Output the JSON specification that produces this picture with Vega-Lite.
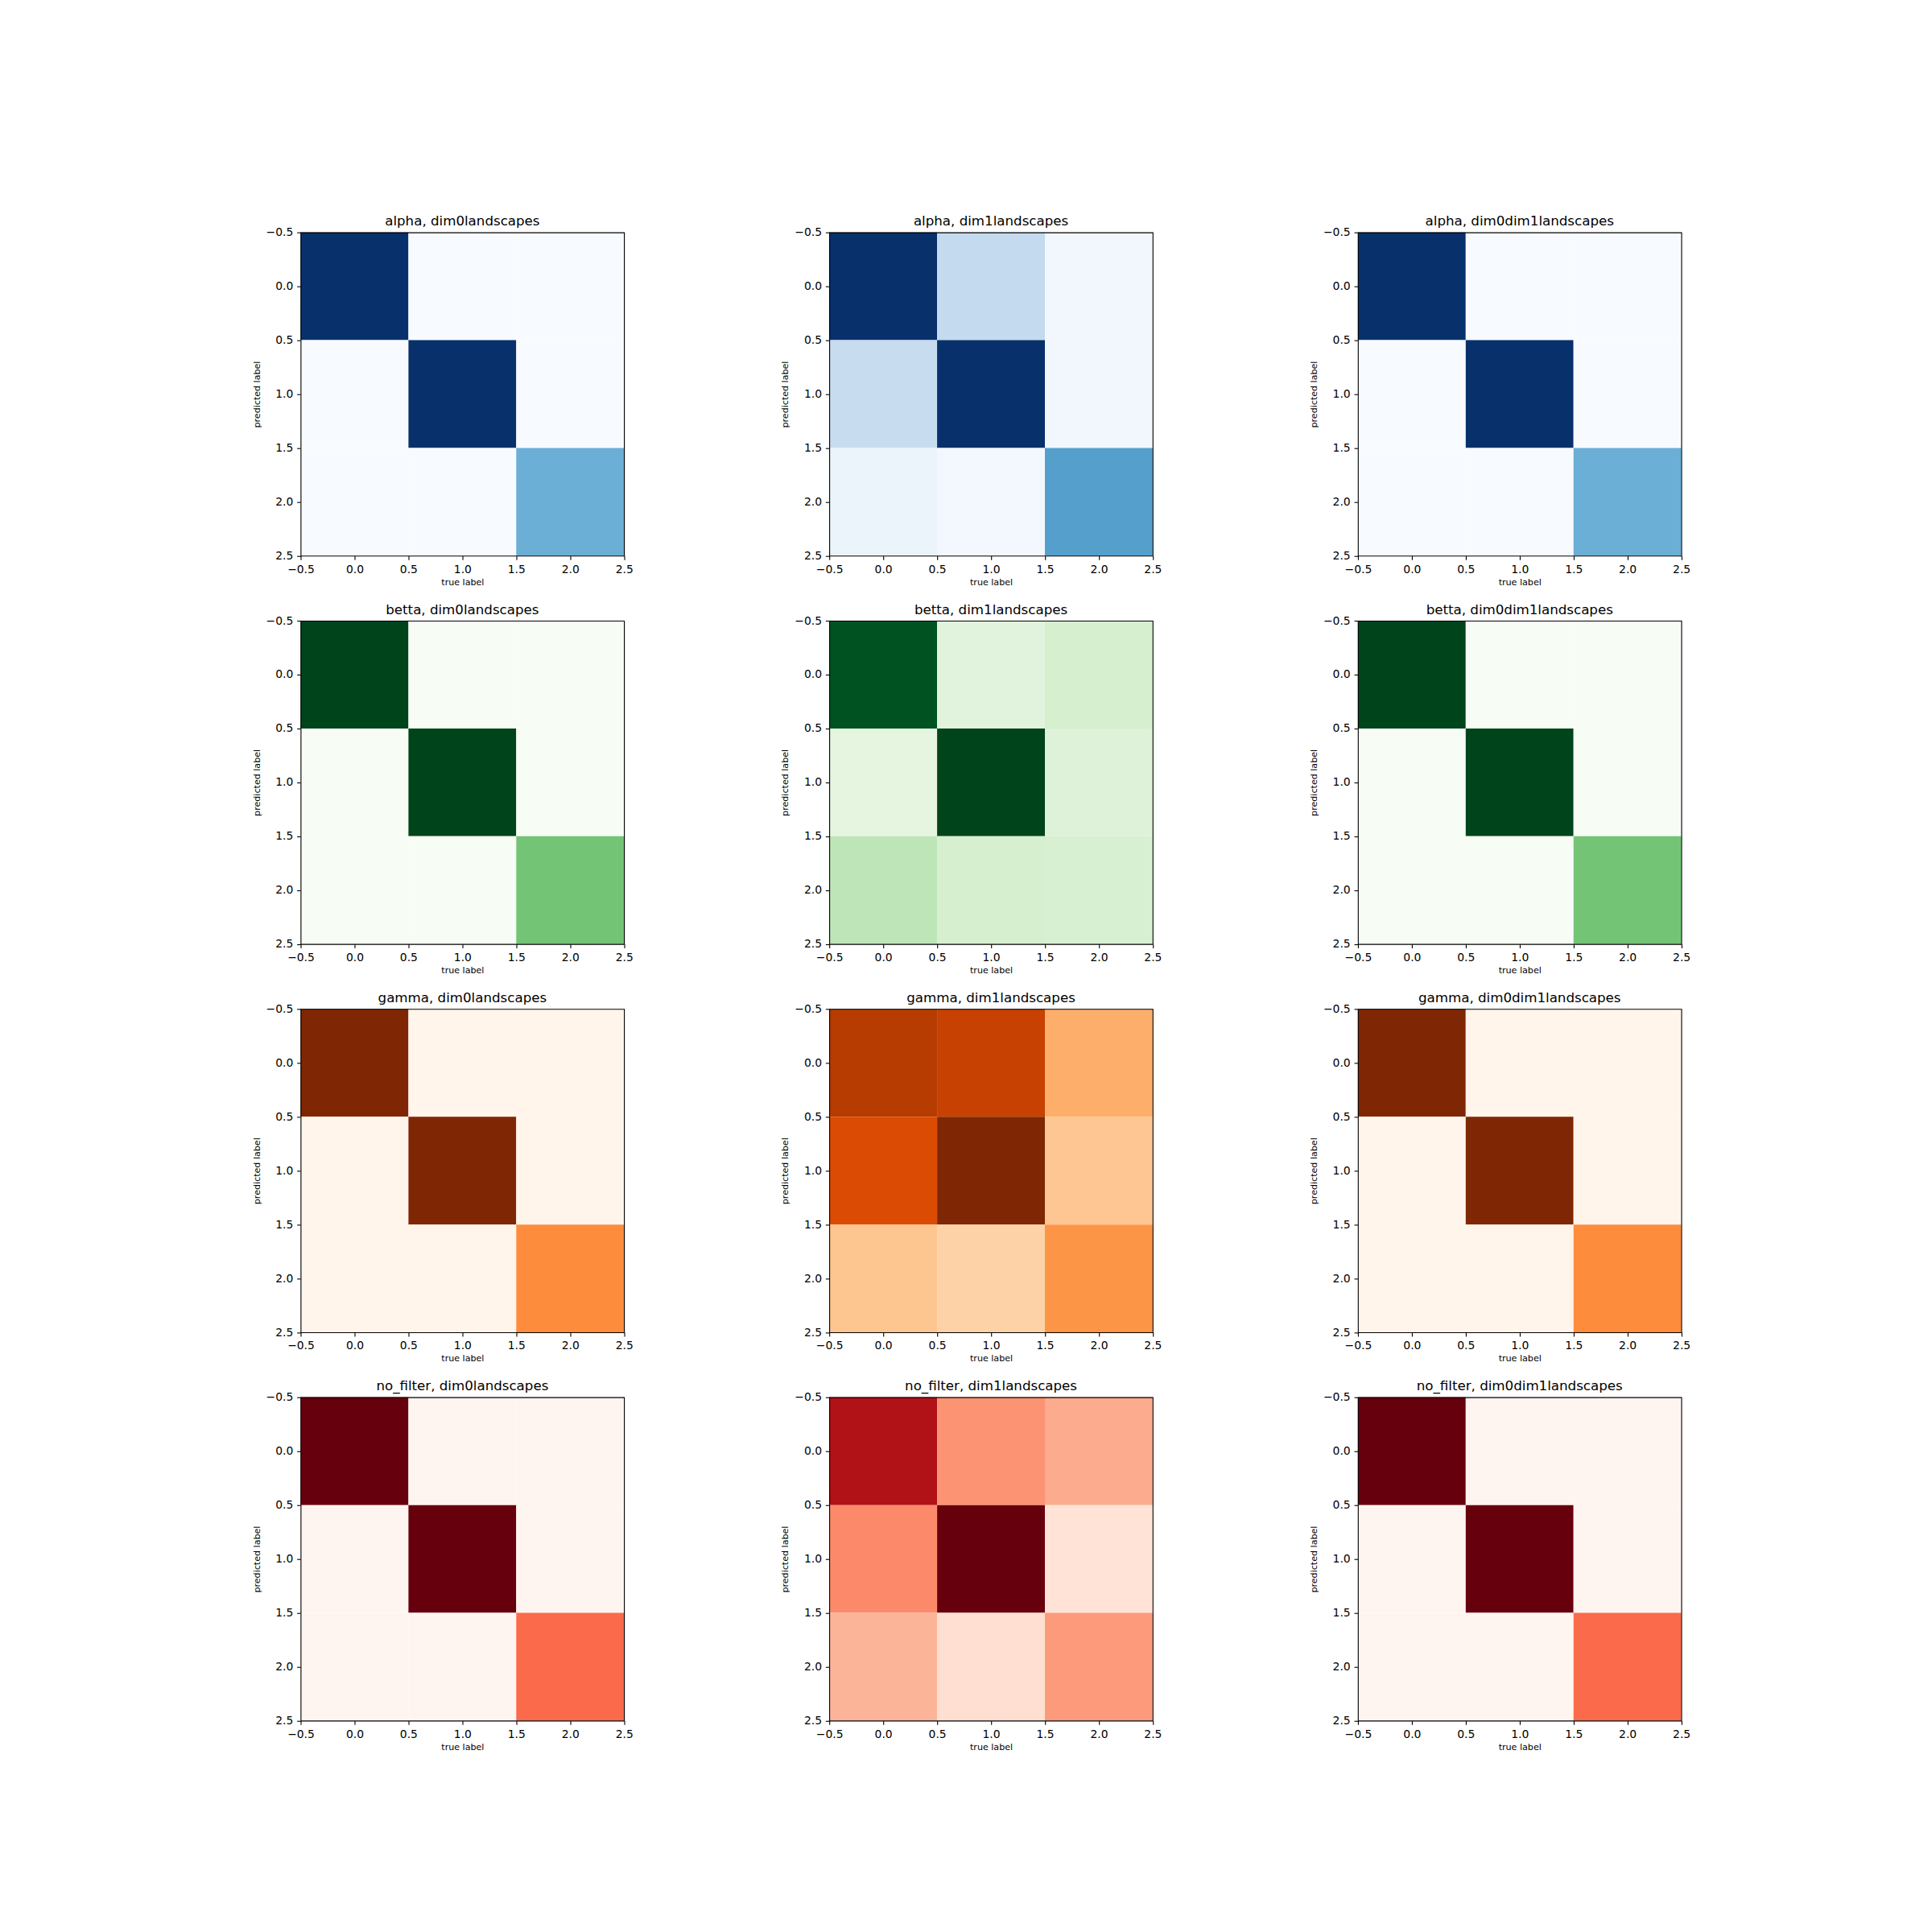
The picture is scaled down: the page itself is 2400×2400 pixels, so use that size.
{
  "$schema": "https://vega.github.io/schema/vega-lite/v6.json",
  "padding": {"left": 312.5, "top": 266.7, "right": 5, "bottom": 5},
  "data": {"values": [
    {"m":"alpha","l":"dim0landscapes","r":0,"c":0,"v":1},{"m":"alpha","l":"dim0landscapes","r":0,"c":1,"v":0},{"m":"alpha","l":"dim0landscapes","r":0,"c":2,"v":0},
    {"m":"alpha","l":"dim0landscapes","r":1,"c":0,"v":0},{"m":"alpha","l":"dim0landscapes","r":1,"c":1,"v":1},{"m":"alpha","l":"dim0landscapes","r":1,"c":2,"v":0},
    {"m":"alpha","l":"dim0landscapes","r":2,"c":0,"v":0},{"m":"alpha","l":"dim0landscapes","r":2,"c":1,"v":0},{"m":"alpha","l":"dim0landscapes","r":2,"c":2,"v":0.5},
    {"m":"alpha","l":"dim1landscapes","r":0,"c":0,"v":1},{"m":"alpha","l":"dim1landscapes","r":0,"c":1,"v":0.255},{"m":"alpha","l":"dim1landscapes","r":0,"c":2,"v":0.03},
    {"m":"alpha","l":"dim1landscapes","r":1,"c":0,"v":0.245},{"m":"alpha","l":"dim1landscapes","r":1,"c":1,"v":1},{"m":"alpha","l":"dim1landscapes","r":1,"c":2,"v":0.03},
    {"m":"alpha","l":"dim1landscapes","r":2,"c":0,"v":0.055},{"m":"alpha","l":"dim1landscapes","r":2,"c":1,"v":0.025},{"m":"alpha","l":"dim1landscapes","r":2,"c":2,"v":0.567},
    {"m":"alpha","l":"dim0dim1landscapes","r":0,"c":0,"v":1},{"m":"alpha","l":"dim0dim1landscapes","r":0,"c":1,"v":0},{"m":"alpha","l":"dim0dim1landscapes","r":0,"c":2,"v":0},
    {"m":"alpha","l":"dim0dim1landscapes","r":1,"c":0,"v":0},{"m":"alpha","l":"dim0dim1landscapes","r":1,"c":1,"v":1},{"m":"alpha","l":"dim0dim1landscapes","r":1,"c":2,"v":0},
    {"m":"alpha","l":"dim0dim1landscapes","r":2,"c":0,"v":0},{"m":"alpha","l":"dim0dim1landscapes","r":2,"c":1,"v":0},{"m":"alpha","l":"dim0dim1landscapes","r":2,"c":2,"v":0.5},
    {"m":"betta","l":"dim0landscapes","r":0,"c":0,"v":1},{"m":"betta","l":"dim0landscapes","r":0,"c":1,"v":0},{"m":"betta","l":"dim0landscapes","r":0,"c":2,"v":0},
    {"m":"betta","l":"dim0landscapes","r":1,"c":0,"v":0},{"m":"betta","l":"dim0landscapes","r":1,"c":1,"v":1},{"m":"betta","l":"dim0landscapes","r":1,"c":2,"v":0},
    {"m":"betta","l":"dim0landscapes","r":2,"c":0,"v":0},{"m":"betta","l":"dim0landscapes","r":2,"c":1,"v":0},{"m":"betta","l":"dim0landscapes","r":2,"c":2,"v":0.5},
    {"m":"betta","l":"dim1landscapes","r":0,"c":0,"v":0.957},{"m":"betta","l":"dim1landscapes","r":0,"c":1,"v":0.142},{"m":"betta","l":"dim1landscapes","r":0,"c":2,"v":0.19},
    {"m":"betta","l":"dim1landscapes","r":1,"c":0,"v":0.125},{"m":"betta","l":"dim1landscapes","r":1,"c":1,"v":1},{"m":"betta","l":"dim1landscapes","r":1,"c":2,"v":0.154},
    {"m":"betta","l":"dim1landscapes","r":2,"c":0,"v":0.28},{"m":"betta","l":"dim1landscapes","r":2,"c":1,"v":0.19},{"m":"betta","l":"dim1landscapes","r":2,"c":2,"v":0.18},
    {"m":"betta","l":"dim0dim1landscapes","r":0,"c":0,"v":1},{"m":"betta","l":"dim0dim1landscapes","r":0,"c":1,"v":0},{"m":"betta","l":"dim0dim1landscapes","r":0,"c":2,"v":0},
    {"m":"betta","l":"dim0dim1landscapes","r":1,"c":0,"v":0},{"m":"betta","l":"dim0dim1landscapes","r":1,"c":1,"v":1},{"m":"betta","l":"dim0dim1landscapes","r":1,"c":2,"v":0},
    {"m":"betta","l":"dim0dim1landscapes","r":2,"c":0,"v":0},{"m":"betta","l":"dim0dim1landscapes","r":2,"c":1,"v":0},{"m":"betta","l":"dim0dim1landscapes","r":2,"c":2,"v":0.5},
    {"m":"gamma","l":"dim0landscapes","r":0,"c":0,"v":1},{"m":"gamma","l":"dim0landscapes","r":0,"c":1,"v":0},{"m":"gamma","l":"dim0landscapes","r":0,"c":2,"v":0},
    {"m":"gamma","l":"dim0landscapes","r":1,"c":0,"v":0},{"m":"gamma","l":"dim0landscapes","r":1,"c":1,"v":1},{"m":"gamma","l":"dim0landscapes","r":1,"c":2,"v":0},
    {"m":"gamma","l":"dim0landscapes","r":2,"c":0,"v":0},{"m":"gamma","l":"dim0landscapes","r":2,"c":1,"v":0},{"m":"gamma","l":"dim0landscapes","r":2,"c":2,"v":0.5},
    {"m":"gamma","l":"dim1landscapes","r":0,"c":0,"v":0.836},{"m":"gamma","l":"dim1landscapes","r":0,"c":1,"v":0.797},{"m":"gamma","l":"dim1landscapes","r":0,"c":2,"v":0.375},
    {"m":"gamma","l":"dim1landscapes","r":1,"c":0,"v":0.739},{"m":"gamma","l":"dim1landscapes","r":1,"c":1,"v":1},{"m":"gamma","l":"dim1landscapes","r":1,"c":2,"v":0.286},
    {"m":"gamma","l":"dim1landscapes","r":2,"c":0,"v":0.29},{"m":"gamma","l":"dim1landscapes","r":2,"c":1,"v":0.239},{"m":"gamma","l":"dim1landscapes","r":2,"c":2,"v":0.47},
    {"m":"gamma","l":"dim0dim1landscapes","r":0,"c":0,"v":1},{"m":"gamma","l":"dim0dim1landscapes","r":0,"c":1,"v":0},{"m":"gamma","l":"dim0dim1landscapes","r":0,"c":2,"v":0},
    {"m":"gamma","l":"dim0dim1landscapes","r":1,"c":0,"v":0},{"m":"gamma","l":"dim0dim1landscapes","r":1,"c":1,"v":1},{"m":"gamma","l":"dim0dim1landscapes","r":1,"c":2,"v":0},
    {"m":"gamma","l":"dim0dim1landscapes","r":2,"c":0,"v":0},{"m":"gamma","l":"dim0dim1landscapes","r":2,"c":1,"v":0},{"m":"gamma","l":"dim0dim1landscapes","r":2,"c":2,"v":0.5},
    {"m":"no_filter","l":"dim0landscapes","r":0,"c":0,"v":1},{"m":"no_filter","l":"dim0landscapes","r":0,"c":1,"v":0},{"m":"no_filter","l":"dim0landscapes","r":0,"c":2,"v":0},
    {"m":"no_filter","l":"dim0landscapes","r":1,"c":0,"v":0},{"m":"no_filter","l":"dim0landscapes","r":1,"c":1,"v":1},{"m":"no_filter","l":"dim0landscapes","r":1,"c":2,"v":0},
    {"m":"no_filter","l":"dim0landscapes","r":2,"c":0,"v":0},{"m":"no_filter","l":"dim0landscapes","r":2,"c":1,"v":0},{"m":"no_filter","l":"dim0landscapes","r":2,"c":2,"v":0.5},
    {"m":"no_filter","l":"dim1landscapes","r":0,"c":0,"v":0.839},{"m":"no_filter","l":"dim1landscapes","r":0,"c":1,"v":0.37},{"m":"no_filter","l":"dim1landscapes","r":0,"c":2,"v":0.299},
    {"m":"no_filter","l":"dim1landscapes","r":1,"c":0,"v":0.4},{"m":"no_filter","l":"dim1landscapes","r":1,"c":1,"v":1},{"m":"no_filter","l":"dim1landscapes","r":1,"c":2,"v":0.107},
    {"m":"no_filter","l":"dim1landscapes","r":2,"c":0,"v":0.271},{"m":"no_filter","l":"dim1landscapes","r":2,"c":1,"v":0.128},{"m":"no_filter","l":"dim1landscapes","r":2,"c":2,"v":0.35},
    {"m":"no_filter","l":"dim0dim1landscapes","r":0,"c":0,"v":1},{"m":"no_filter","l":"dim0dim1landscapes","r":0,"c":1,"v":0},{"m":"no_filter","l":"dim0dim1landscapes","r":0,"c":2,"v":0},
    {"m":"no_filter","l":"dim0dim1landscapes","r":1,"c":0,"v":0},{"m":"no_filter","l":"dim0dim1landscapes","r":1,"c":1,"v":1},{"m":"no_filter","l":"dim0dim1landscapes","r":1,"c":2,"v":0},
    {"m":"no_filter","l":"dim0dim1landscapes","r":2,"c":0,"v":0},{"m":"no_filter","l":"dim0dim1landscapes","r":2,"c":1,"v":0},{"m":"no_filter","l":"dim0dim1landscapes","r":2,"c":2,"v":0.5}
  ]},
  "transform": [
    {"calculate": "datum.c - 0.5", "as": "x0"},
    {"calculate": "datum.c + 0.5", "as": "x1"},
    {"calculate": "datum.r - 0.5", "as": "y0"},
    {"calculate": "datum.r + 0.5", "as": "y1"}
  ],
  "columns": 3,
  "spacing": {"row": 80.35, "column": 254.7},
  "bounds": "flush",
  "resolve": {"scale": {"color": "independent"}},
  "concat": [
    {"title": "alpha, dim0landscapes", "transform": [{"filter": "datum.m == 'alpha' && datum.l == 'dim0landscapes'"}], "mark": {"type": "rect", "strokeWidth": 0},
     "encoding": {"x": {"field": "x0", "type": "quantitative", "scale": {"domain": [-0.5, 2.5], "nice": false, "zero": false}, "axis": {"values": [-0.5, 0, 0.5, 1, 1.5, 2, 2.5], "format": ".1f", "title": "true label"}}, "x2": {"field": "x1"},
       "y": {"field": "y0", "type": "quantitative", "scale": {"domain": [-0.5, 2.5], "reverse": true, "nice": false, "zero": false}, "axis": {"values": [-0.5, 0, 0.5, 1, 1.5, 2, 2.5], "format": ".1f", "title": "predicted label"}}, "y2": {"field": "y1"},
       "color": {"field": "v", "type": "quantitative", "legend": null, "scale": {"domain": [0, 0.125, 0.25, 0.375, 0.5, 0.625, 0.75, 0.875, 1], "range": ["#f7fbff", "#deebf7", "#c6dbef", "#9ecae1", "#6baed6", "#4292c6", "#2171b5", "#08519c", "#08306b"], "interpolate": "rgb"}}}},
    {"title": "alpha, dim1landscapes", "transform": [{"filter": "datum.m == 'alpha' && datum.l == 'dim1landscapes'"}], "mark": {"type": "rect", "strokeWidth": 0},
     "encoding": {"x": {"field": "x0", "type": "quantitative", "scale": {"domain": [-0.5, 2.5], "nice": false, "zero": false}, "axis": {"values": [-0.5, 0, 0.5, 1, 1.5, 2, 2.5], "format": ".1f", "title": "true label"}}, "x2": {"field": "x1"},
       "y": {"field": "y0", "type": "quantitative", "scale": {"domain": [-0.5, 2.5], "reverse": true, "nice": false, "zero": false}, "axis": {"values": [-0.5, 0, 0.5, 1, 1.5, 2, 2.5], "format": ".1f", "title": "predicted label"}}, "y2": {"field": "y1"},
       "color": {"field": "v", "type": "quantitative", "legend": null, "scale": {"domain": [0, 0.125, 0.25, 0.375, 0.5, 0.625, 0.75, 0.875, 1], "range": ["#f7fbff", "#deebf7", "#c6dbef", "#9ecae1", "#6baed6", "#4292c6", "#2171b5", "#08519c", "#08306b"], "interpolate": "rgb"}}}},
    {"title": "alpha, dim0dim1landscapes", "transform": [{"filter": "datum.m == 'alpha' && datum.l == 'dim0dim1landscapes'"}], "mark": {"type": "rect", "strokeWidth": 0},
     "encoding": {"x": {"field": "x0", "type": "quantitative", "scale": {"domain": [-0.5, 2.5], "nice": false, "zero": false}, "axis": {"values": [-0.5, 0, 0.5, 1, 1.5, 2, 2.5], "format": ".1f", "title": "true label"}}, "x2": {"field": "x1"},
       "y": {"field": "y0", "type": "quantitative", "scale": {"domain": [-0.5, 2.5], "reverse": true, "nice": false, "zero": false}, "axis": {"values": [-0.5, 0, 0.5, 1, 1.5, 2, 2.5], "format": ".1f", "title": "predicted label"}}, "y2": {"field": "y1"},
       "color": {"field": "v", "type": "quantitative", "legend": null, "scale": {"domain": [0, 0.125, 0.25, 0.375, 0.5, 0.625, 0.75, 0.875, 1], "range": ["#f7fbff", "#deebf7", "#c6dbef", "#9ecae1", "#6baed6", "#4292c6", "#2171b5", "#08519c", "#08306b"], "interpolate": "rgb"}}}},
    {"title": "betta, dim0landscapes", "transform": [{"filter": "datum.m == 'betta' && datum.l == 'dim0landscapes'"}], "mark": {"type": "rect", "strokeWidth": 0},
     "encoding": {"x": {"field": "x0", "type": "quantitative", "scale": {"domain": [-0.5, 2.5], "nice": false, "zero": false}, "axis": {"values": [-0.5, 0, 0.5, 1, 1.5, 2, 2.5], "format": ".1f", "title": "true label"}}, "x2": {"field": "x1"},
       "y": {"field": "y0", "type": "quantitative", "scale": {"domain": [-0.5, 2.5], "reverse": true, "nice": false, "zero": false}, "axis": {"values": [-0.5, 0, 0.5, 1, 1.5, 2, 2.5], "format": ".1f", "title": "predicted label"}}, "y2": {"field": "y1"},
       "color": {"field": "v", "type": "quantitative", "legend": null, "scale": {"domain": [0, 0.125, 0.25, 0.375, 0.5, 0.625, 0.75, 0.875, 1], "range": ["#f7fcf5", "#e5f5e0", "#c7e9c0", "#a1d99b", "#74c476", "#41ab5d", "#238b45", "#006d2c", "#00441b"], "interpolate": "rgb"}}}},
    {"title": "betta, dim1landscapes", "transform": [{"filter": "datum.m == 'betta' && datum.l == 'dim1landscapes'"}], "mark": {"type": "rect", "strokeWidth": 0},
     "encoding": {"x": {"field": "x0", "type": "quantitative", "scale": {"domain": [-0.5, 2.5], "nice": false, "zero": false}, "axis": {"values": [-0.5, 0, 0.5, 1, 1.5, 2, 2.5], "format": ".1f", "title": "true label"}}, "x2": {"field": "x1"},
       "y": {"field": "y0", "type": "quantitative", "scale": {"domain": [-0.5, 2.5], "reverse": true, "nice": false, "zero": false}, "axis": {"values": [-0.5, 0, 0.5, 1, 1.5, 2, 2.5], "format": ".1f", "title": "predicted label"}}, "y2": {"field": "y1"},
       "color": {"field": "v", "type": "quantitative", "legend": null, "scale": {"domain": [0, 0.125, 0.25, 0.375, 0.5, 0.625, 0.75, 0.875, 1], "range": ["#f7fcf5", "#e5f5e0", "#c7e9c0", "#a1d99b", "#74c476", "#41ab5d", "#238b45", "#006d2c", "#00441b"], "interpolate": "rgb"}}}},
    {"title": "betta, dim0dim1landscapes", "transform": [{"filter": "datum.m == 'betta' && datum.l == 'dim0dim1landscapes'"}], "mark": {"type": "rect", "strokeWidth": 0},
     "encoding": {"x": {"field": "x0", "type": "quantitative", "scale": {"domain": [-0.5, 2.5], "nice": false, "zero": false}, "axis": {"values": [-0.5, 0, 0.5, 1, 1.5, 2, 2.5], "format": ".1f", "title": "true label"}}, "x2": {"field": "x1"},
       "y": {"field": "y0", "type": "quantitative", "scale": {"domain": [-0.5, 2.5], "reverse": true, "nice": false, "zero": false}, "axis": {"values": [-0.5, 0, 0.5, 1, 1.5, 2, 2.5], "format": ".1f", "title": "predicted label"}}, "y2": {"field": "y1"},
       "color": {"field": "v", "type": "quantitative", "legend": null, "scale": {"domain": [0, 0.125, 0.25, 0.375, 0.5, 0.625, 0.75, 0.875, 1], "range": ["#f7fcf5", "#e5f5e0", "#c7e9c0", "#a1d99b", "#74c476", "#41ab5d", "#238b45", "#006d2c", "#00441b"], "interpolate": "rgb"}}}},
    {"title": "gamma, dim0landscapes", "transform": [{"filter": "datum.m == 'gamma' && datum.l == 'dim0landscapes'"}], "mark": {"type": "rect", "strokeWidth": 0},
     "encoding": {"x": {"field": "x0", "type": "quantitative", "scale": {"domain": [-0.5, 2.5], "nice": false, "zero": false}, "axis": {"values": [-0.5, 0, 0.5, 1, 1.5, 2, 2.5], "format": ".1f", "title": "true label"}}, "x2": {"field": "x1"},
       "y": {"field": "y0", "type": "quantitative", "scale": {"domain": [-0.5, 2.5], "reverse": true, "nice": false, "zero": false}, "axis": {"values": [-0.5, 0, 0.5, 1, 1.5, 2, 2.5], "format": ".1f", "title": "predicted label"}}, "y2": {"field": "y1"},
       "color": {"field": "v", "type": "quantitative", "legend": null, "scale": {"domain": [0, 0.125, 0.25, 0.375, 0.5, 0.625, 0.75, 0.875, 1], "range": ["#fff5eb", "#fee6ce", "#fdd0a2", "#fdae6b", "#fd8d3c", "#f16913", "#d94801", "#a63603", "#7f2704"], "interpolate": "rgb"}}}},
    {"title": "gamma, dim1landscapes", "transform": [{"filter": "datum.m == 'gamma' && datum.l == 'dim1landscapes'"}], "mark": {"type": "rect", "strokeWidth": 0},
     "encoding": {"x": {"field": "x0", "type": "quantitative", "scale": {"domain": [-0.5, 2.5], "nice": false, "zero": false}, "axis": {"values": [-0.5, 0, 0.5, 1, 1.5, 2, 2.5], "format": ".1f", "title": "true label"}}, "x2": {"field": "x1"},
       "y": {"field": "y0", "type": "quantitative", "scale": {"domain": [-0.5, 2.5], "reverse": true, "nice": false, "zero": false}, "axis": {"values": [-0.5, 0, 0.5, 1, 1.5, 2, 2.5], "format": ".1f", "title": "predicted label"}}, "y2": {"field": "y1"},
       "color": {"field": "v", "type": "quantitative", "legend": null, "scale": {"domain": [0, 0.125, 0.25, 0.375, 0.5, 0.625, 0.75, 0.875, 1], "range": ["#fff5eb", "#fee6ce", "#fdd0a2", "#fdae6b", "#fd8d3c", "#f16913", "#d94801", "#a63603", "#7f2704"], "interpolate": "rgb"}}}},
    {"title": "gamma, dim0dim1landscapes", "transform": [{"filter": "datum.m == 'gamma' && datum.l == 'dim0dim1landscapes'"}], "mark": {"type": "rect", "strokeWidth": 0},
     "encoding": {"x": {"field": "x0", "type": "quantitative", "scale": {"domain": [-0.5, 2.5], "nice": false, "zero": false}, "axis": {"values": [-0.5, 0, 0.5, 1, 1.5, 2, 2.5], "format": ".1f", "title": "true label"}}, "x2": {"field": "x1"},
       "y": {"field": "y0", "type": "quantitative", "scale": {"domain": [-0.5, 2.5], "reverse": true, "nice": false, "zero": false}, "axis": {"values": [-0.5, 0, 0.5, 1, 1.5, 2, 2.5], "format": ".1f", "title": "predicted label"}}, "y2": {"field": "y1"},
       "color": {"field": "v", "type": "quantitative", "legend": null, "scale": {"domain": [0, 0.125, 0.25, 0.375, 0.5, 0.625, 0.75, 0.875, 1], "range": ["#fff5eb", "#fee6ce", "#fdd0a2", "#fdae6b", "#fd8d3c", "#f16913", "#d94801", "#a63603", "#7f2704"], "interpolate": "rgb"}}}},
    {"title": "no_filter, dim0landscapes", "transform": [{"filter": "datum.m == 'no_filter' && datum.l == 'dim0landscapes'"}], "mark": {"type": "rect", "strokeWidth": 0},
     "encoding": {"x": {"field": "x0", "type": "quantitative", "scale": {"domain": [-0.5, 2.5], "nice": false, "zero": false}, "axis": {"values": [-0.5, 0, 0.5, 1, 1.5, 2, 2.5], "format": ".1f", "title": "true label"}}, "x2": {"field": "x1"},
       "y": {"field": "y0", "type": "quantitative", "scale": {"domain": [-0.5, 2.5], "reverse": true, "nice": false, "zero": false}, "axis": {"values": [-0.5, 0, 0.5, 1, 1.5, 2, 2.5], "format": ".1f", "title": "predicted label"}}, "y2": {"field": "y1"},
       "color": {"field": "v", "type": "quantitative", "legend": null, "scale": {"domain": [0, 0.125, 0.25, 0.375, 0.5, 0.625, 0.75, 0.875, 1], "range": ["#fff5f0", "#fee0d2", "#fcbba1", "#fc9272", "#fb6a4a", "#ef3b2c", "#cb181d", "#a50f15", "#67000d"], "interpolate": "rgb"}}}},
    {"title": "no_filter, dim1landscapes", "transform": [{"filter": "datum.m == 'no_filter' && datum.l == 'dim1landscapes'"}], "mark": {"type": "rect", "strokeWidth": 0},
     "encoding": {"x": {"field": "x0", "type": "quantitative", "scale": {"domain": [-0.5, 2.5], "nice": false, "zero": false}, "axis": {"values": [-0.5, 0, 0.5, 1, 1.5, 2, 2.5], "format": ".1f", "title": "true label"}}, "x2": {"field": "x1"},
       "y": {"field": "y0", "type": "quantitative", "scale": {"domain": [-0.5, 2.5], "reverse": true, "nice": false, "zero": false}, "axis": {"values": [-0.5, 0, 0.5, 1, 1.5, 2, 2.5], "format": ".1f", "title": "predicted label"}}, "y2": {"field": "y1"},
       "color": {"field": "v", "type": "quantitative", "legend": null, "scale": {"domain": [0, 0.125, 0.25, 0.375, 0.5, 0.625, 0.75, 0.875, 1], "range": ["#fff5f0", "#fee0d2", "#fcbba1", "#fc9272", "#fb6a4a", "#ef3b2c", "#cb181d", "#a50f15", "#67000d"], "interpolate": "rgb"}}}},
    {"title": "no_filter, dim0dim1landscapes", "transform": [{"filter": "datum.m == 'no_filter' && datum.l == 'dim0dim1landscapes'"}], "mark": {"type": "rect", "strokeWidth": 0},
     "encoding": {"x": {"field": "x0", "type": "quantitative", "scale": {"domain": [-0.5, 2.5], "nice": false, "zero": false}, "axis": {"values": [-0.5, 0, 0.5, 1, 1.5, 2, 2.5], "format": ".1f", "title": "true label"}}, "x2": {"field": "x1"},
       "y": {"field": "y0", "type": "quantitative", "scale": {"domain": [-0.5, 2.5], "reverse": true, "nice": false, "zero": false}, "axis": {"values": [-0.5, 0, 0.5, 1, 1.5, 2, 2.5], "format": ".1f", "title": "predicted label"}}, "y2": {"field": "y1"},
       "color": {"field": "v", "type": "quantitative", "legend": null, "scale": {"domain": [0, 0.125, 0.25, 0.375, 0.5, 0.625, 0.75, 0.875, 1], "range": ["#fff5f0", "#fee0d2", "#fcbba1", "#fc9272", "#fb6a4a", "#ef3b2c", "#cb181d", "#a50f15", "#67000d"], "interpolate": "rgb"}}}}
  ],
  "config": {
    "font": "DejaVu Sans",
    "background": "white",
    "view": {"stroke": "black", "strokeWidth": 1.11, "continuousWidth": 401.7, "continuousHeight": 401.7},
    "style": {"cell": {"strokeForeground": true}},
    "axis": {"grid": false, "domain": false, "ticks": true, "tickColor": "black", "tickSize": 4.86, "tickWidth": 1.11,
      "labelColor": "black", "labelFont": "DejaVu Sans", "labelFontSize": 13.89, "labelPadding": 4.86, "labelFlush": false, "labelOverlap": false,
      "titleFont": "DejaVu Sans", "titleFontSize": 11.11, "titleFontWeight": "normal", "titleColor": "black"},
    "axisX": {"titlePadding": 3},
    "axisY": {"titlePadding": 6},
    "title": {"font": "DejaVu Sans", "fontSize": 16.67, "fontWeight": "normal", "color": "black", "baseline": "alphabetic", "offset": -2.4, "anchor": "middle", "frame": "group"}
  }
}
